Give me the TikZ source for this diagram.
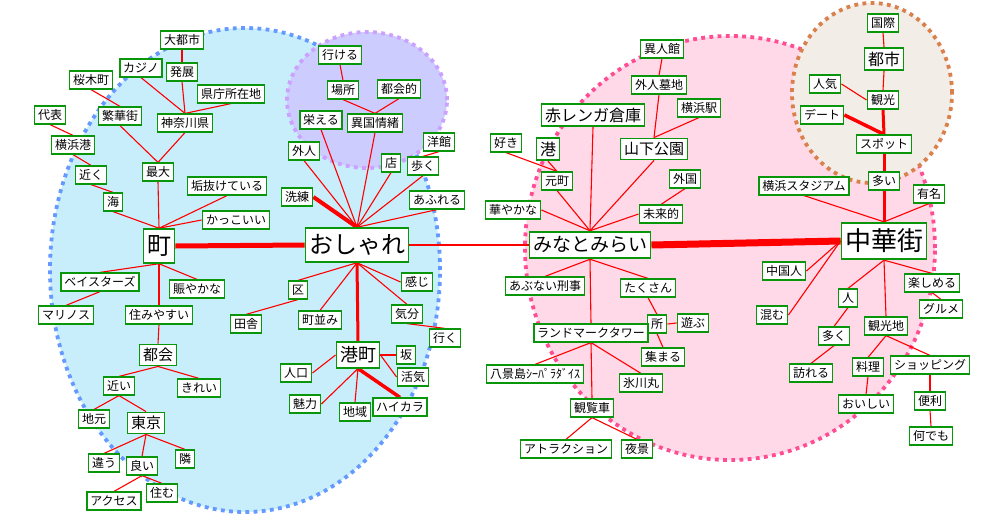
\documentclass[tikz,border=0pt]{standalone}
\usepackage{fontspec}
\newfontfamily\jp{Noto Sans CJK JP}
\pgfdeclarelayer{bg}
\pgfdeclarelayer{edges}
\pgfsetlayers{bg,edges,main}
\definecolor{ndgreen}{RGB}{10,150,10}
\definecolor{bluefill}{RGB}{200,238,251}
\definecolor{blueline}{RGB}{102,153,255}
\definecolor{purfill}{RGB}{204,204,255}
\definecolor{purline}{RGB}{204,160,255}
\definecolor{pinkfill}{RGB}{255,217,232}
\definecolor{pinkline}{RGB}{255,77,148}
\definecolor{tanfill}{RGB}{242,237,231}
\definecolor{tanline}{RGB}{217,128,77}
\tikzset{
 nd/.style={draw=ndgreen, fill=white, line width=1.9pt, inner xsep=3.5pt, inner ysep=0pt,
   minimum height=17.3pt, font=\jp\fontsize{12}{12}\selectfont, text=black},
 sz/.style={font=\jp\fontsize{#1}{#1}\selectfont, minimum height={#1*1.4pt}},
 ln/.style={draw=red, line width=1.1pt},
 thk/.style={draw=red, line width=#1},
 region/.style={line width=3.8pt, dash pattern=on 3.8pt off 4.4pt},
}
\begin{document}
\begin{tikzpicture}[x=1pt,y=-1pt]
\useasboundingbox (0,0) rectangle (1000,519);
\begin{pgfonlayer}{bg}
\fill[white] (0,0) rectangle (1000,519);
\draw[region, draw=blueline, fill=bluefill] (245,270) ellipse [x radius=195pt, y radius=242pt];
\draw[region, draw=pinkline, fill=pinkfill] (730,248) ellipse [x radius=205pt, y radius=212pt];
\draw[region, draw=purline, fill=purfill] (367,100) ellipse [x radius=80pt, y radius=68pt];
\draw[region, draw=tanline, fill=tanfill] (872,93) ellipse [x radius=80pt, y radius=90pt];
\end{pgfonlayer}

% ---------- left cluster ----------
\node[nd] (n1) at (182,40) {大都市};
\node[nd] (n2) at (182,72) {発展};
\node[nd] (n3) at (141,68) {カジノ};
\node[nd] (n4) at (91,80) {桜木町};
\node[nd] (n5) at (231,94) {県庁所在地};
\node[nd] (n6) at (185,123) {神奈川県};
\node[nd] (n7) at (120,116) {繁華街};
\node[nd] (n8) at (50,115) {代表};
\node[nd] (n9) at (73,145) {横浜港};
\node[nd] (n10) at (91,175) {近く};
\node[nd] (n11) at (158,172) {最大};
\node[nd] (n12) at (227,186) {垢抜けている};
\node[nd] (n13) at (113,202) {海};
\node[nd] (n14) at (236,220) {かっこいい};
\node[nd,sz=24] (machi) at (159,246) {町};
\node[nd] (n15) at (100,282) {ベイスターズ};
\node[nd] (n16) at (197,289) {賑やかな};
\node[nd] (n17) at (66,315) {マリノス};
\node[nd] (n18) at (159,315) {住みやすい};
\node[nd] (n19) at (246,324) {田舎};
\node[nd,sz=15] (tokai) at (158,355) {都会};
\node[nd] (n20) at (119,386) {近い};
\node[nd] (n21) at (199,388) {きれい};
\node[nd] (n22) at (94,419) {地元};
\node[nd,sz=15] (tokyo) at (146,423) {東京};
\node[nd] (n23) at (104,463) {違う};
\node[nd] (n24) at (142,466) {良い};
\node[nd] (n25) at (185,459) {隣};
\node[nd] (n26) at (114,501) {アクセス};
\node[nd] (n27) at (162,493) {住む};

% ---------- middle cluster ----------
\node[nd] (o1) at (340,55) {行ける};
\node[nd] (o2) at (343,90) {場所};
\node[nd] (o3) at (399,89) {都会的};
\node[nd] (o4) at (321,120) {栄える};
\node[nd] (o5) at (375,123) {異国情緒};
\node[nd] (o6) at (304,151) {外人};
\node[nd] (o7) at (391,163) {店};
\node[nd] (o8) at (439,142) {洋館};
\node[nd] (o9) at (423,166) {歩く};
\node[nd] (o10) at (297,197) {洗練};
\node[nd] (o11) at (437,200) {あふれる};
\node[nd,sz=24] (osh) at (357,245) {おしゃれ};
\node[nd] (o12) at (298,290) {区};
\node[nd] (o13) at (417,282) {感じ};
\node[nd] (o14) at (320,320) {町並み};
\node[nd] (o15) at (407,314) {気分};
\node[nd] (o16) at (445,338) {行く};
\node[nd,sz=18] (mnt) at (358,355) {港町};
\node[nd] (o17) at (406,355) {坂};
\node[nd] (o18) at (413,377) {活気};
\node[nd] (o19) at (296,373) {人口};
\node[nd] (o20) at (305,404) {魅力};
\node[nd] (o21) at (355,412) {地域};
\node[nd] (o22) at (400,407) {ハイカラ};

% ---------- pink cluster ----------
\node[nd] (p1) at (662,49) {異人館};
\node[nd] (p2) at (659,85) {外人墓地};
\node[nd] (p3) at (699,108) {横浜駅};
\node[nd,sz=16] (aka) at (593,115) {赤レンガ倉庫};
\node[nd] (p4) at (506,143) {好き};
\node[nd,sz=16] (hrb) at (548,149) {港};
\node[nd,sz=15] (yam) at (654,149) {山下公園};
\node[nd] (p5) at (557,181) {元町};
\node[nd] (p6) at (685,179) {外国};
\node[nd] (p7) at (513,210) {華やかな};
\node[nd] (p8) at (661,214) {未来的};
\node[nd,sz=19] (mm) at (590,245) {みなとみらい};
\node[nd] (p9) at (545,286) {あぶない刑事};
\node[nd] (p10) at (648,288) {たくさん};
\node[nd] (p11) at (657,324) {所};
\node[nd] (p12) at (693,323) {遊ぶ};
\node[nd] (lmt) at (591,333) {ランドマークタワー};
\node[nd] (p13) at (663,357) {集まる};
\node[nd] (p14) at (535,374) {八景島ｼｰﾊﾟﾗﾀﾞｲｽ};
\node[nd] (p15) at (641,383) {氷川丸};
\node[nd] (p16) at (592,408) {観覧車};
\node[nd] (p17) at (566,449) {アトラクション};
\node[nd] (p18) at (637,449) {夜景};

% ---------- right cluster ----------
\node[nd] (r1) at (883,23) {国際};
\node[nd,sz=16] (toshi) at (884,59) {都市};
\node[nd] (r2) at (825,84) {人気};
\node[nd] (r3) at (883,100) {観光};
\node[nd] (r4) at (822,115) {デート};
\node[nd] (r5) at (884,144) {スポット};
\node[nd] (r6) at (804,186) {横浜スタジアム};
\node[nd] (r7) at (884,181) {多い};
\node[nd] (r8) at (929,194) {有名};
\node[nd,sz=26] (cgt) at (884,241) {中華街};
\node[nd] (r9) at (784,271) {中国人};
\node[nd] (r10) at (772,315) {混む};
\node[nd] (r11) at (932,283) {楽しめる};
\node[nd] (r12) at (941,309) {グルメ};
\node[nd] (r13) at (848,298) {人};
\node[nd] (r14) at (886,326) {観光地};
\node[nd] (r15) at (834,336) {多く};
\node[nd] (r16) at (811,373) {訪れる};
\node[nd] (r17) at (868,367) {料理};
\node[nd] (r18) at (930,365) {ショッピング};
\node[nd] (r19) at (866,404) {おいしい};
\node[nd] (r20) at (930,401) {便利};
\node[nd] (r21) at (931,436) {何でも};

\begin{pgfonlayer}{edges}
\foreach \a/\b in {
 n1.south/n2.north, n2.south/n6.north, n3.south/n6.north, n5.south/n6.north,
 n4.south/n7.north, n7.south/n11.north, n6.south/n11.north,
 n8.south/n9.north, n9.south/n10.north, n10.south/n13.north,
 n13.south/machi.north, n11.south/machi.north, n12.south/machi.north, n14.west/machi.north,
 machi.south/n15.north, machi.south/n16.north, machi.south/n18.north,
 n15.south/n17.north, n18.south/tokai.north, tokai.south/n20.north, tokai.south/n21.north,
 n20.south/n22.north, n20.south/tokyo.north,
 tokyo.south/n23.north, tokyo.south/n24.north, tokyo.south/n25.north,
 n24.south/n26.north, n24.south/n27.north, n19.north/o12.south,
 o1.south/o2.north, o2.south/o5.north, o3.south/o5.north,
 osh.north/o4.south, osh.north/o5.south, osh.north/o6.south, osh.north/o7.south,
 osh.north/o9.south, osh.north/o11.south, o8.south/o9.north,
 osh.east/mm.west,
 osh.south/o12.north, osh.south/o14.north, osh.south/o13.west, osh.south/o15.north,
 o15.south/o16.north, mnt.west/o19.east, mnt.east/o17.west, mnt.east/o18.west,
 mnt.south/o20.east, mnt.south/o21.north,
 p1.south/p2.north, p2.south/yam.north, p3.south/yam.north,
 p4.south/p5.north, hrb.south/p5.north,
 aka.south/mm.north, p5.south/mm.north, yam.south/mm.north, p7.east/mm.north, p8.west/mm.north,
 p6.south/p8.north,
 mm.south/p9.north, mm.south/p10.north, mm.south/lmt.north,
 p10.south/p11.north, p11.east/p12.west, p11.south/p13.north,
 lmt.south/p14.north, lmt.south/p15.north, lmt.south/p16.north,
 p16.south/p17.north, p16.south/p18.north,
 r1.south/toshi.north, toshi.south/r3.north, r2.east/r3.west,
 r6.south/cgt.north, r8.south/cgt.north,
 cgt.west/r9.east, cgt.west/r10.east,
 cgt.south/r13.north, cgt.south/r14.north, cgt.south/r11.north,
 r11.south/r12.north, r13.south/r15.north, r15.south/r16.north,
 r14.south/r17.north, r14.south/r18.north, r17.south/r19.north,
 r18.south/r20.north, r20.south/r21.north}
 \draw[ln] (\a) -- (\b);
\draw[thk=5pt] (machi.east) -- (osh.west);
\draw[thk=7pt] (mm.east) -- (cgt.west);
\draw[thk=4pt] (o10.east) -- (osh.north);
\draw[thk=3pt] (osh.south) -- (mnt.north);
\draw[thk=3.5pt] (mnt.south) -- (o22.north);
\draw[thk=3pt] (r3.south) -- (r5.north);
\draw[thk=3.5pt] (r4.east) -- (r5.north);
\draw[thk=3pt] (r5.south) -- (r7.north);
\draw[thk=3pt] (r7.south) -- (cgt.north);
\end{pgfonlayer}
\end{tikzpicture}
\end{document}
